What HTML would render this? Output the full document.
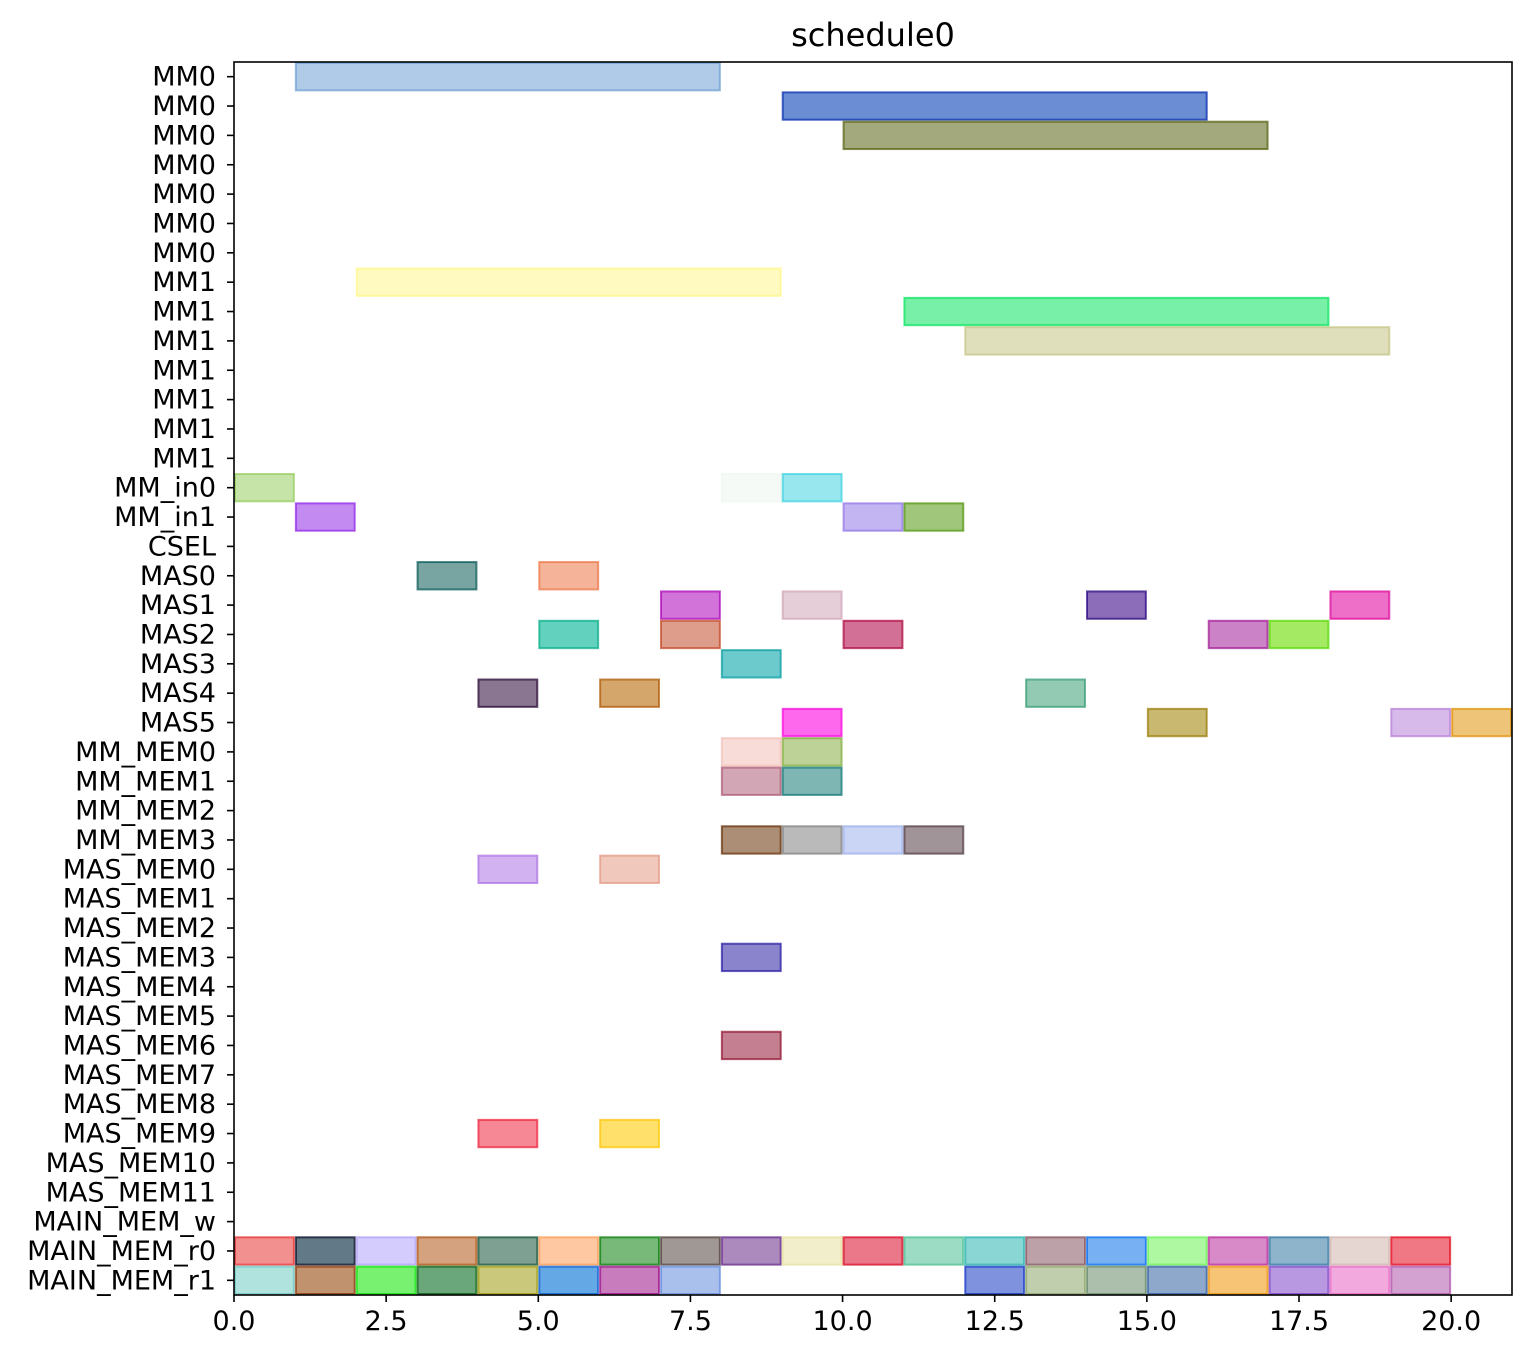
<!DOCTYPE html>
<html><head><meta charset="utf-8"><style>
body{margin:0;background:#fff}
svg text{font-family:"DejaVu Sans","Liberation Sans",sans-serif;fill:#000}
</style></head><body>
<svg id="c" width="1532" height="1362" xmlns="http://www.w3.org/2000/svg"></svg>
<script>
const rowLabels=["MM0","MM0","MM0","MM0","MM0","MM0","MM0","MM1","MM1","MM1","MM1","MM1","MM1","MM1","MM_in0","MM_in1","CSEL","MAS0","MAS1","MAS2","MAS3","MAS4","MAS5","MM_MEM0","MM_MEM1","MM_MEM2","MM_MEM3","MAS_MEM0","MAS_MEM1","MAS_MEM2","MAS_MEM3","MAS_MEM4","MAS_MEM5","MAS_MEM6","MAS_MEM7","MAS_MEM8","MAS_MEM9","MAS_MEM10","MAS_MEM11","MAIN_MEM_w","MAIN_MEM_r0","MAIN_MEM_r1"];
const xTicks=[0,2.5,5,7.5,10,12.5,15,17.5,20];
const xTickLabels=["0.0","2.5","5.0","7.5","10.0","12.5","15.0","17.5","20.0"];
const barRows=[0,1,2,7,8,9,14,14,14,15,15,15,17,17,18,18,18,18,19,19,19,19,19,20,21,21,21,22,22,22,22,23,23,24,24,26,26,26,26,27,27,30,33,36,36];
const barStarts=[1,9,10,2,11,12,0,8,9,1,10,11,3,5,7,9,14,18,5,7,10,16,17,8,4,6,13,9,15,19,20,8,9,8,9,8,9,10,11,4,6,8,8,4,6];
const barEnds=[8,16,17,9,18,19,1,9,10,2,11,12,4,6,8,10,15,19,6,8,11,17,18,9,5,7,14,10,16,20,21,9,10,9,10,9,10,11,12,5,7,9,9,5,7];
const barColors=["#b0cbe8","#6b8dd4","#a3a97d","#fffac0","#78f0a8","#dfdfbc","#c6e4a8","#f6faf6","#98e6ee","#c38af2","#c3b5f2","#a0c67c","#78a5a2","#f5b49a","#d273d9","#e5ced8","#8c6dba","#ed6fc8","#62d2be","#de9c8a","#d27096","#cc82c6","#a4ea62","#6ccacc","#8a7690","#d4a66c","#92cab4","#fd68ec","#c8b870","#d8baea","#eec478","#f8dcd8","#bcd296","#d2a6b4","#7eb6b4","#ac8e76","#bababa","#cad4f4","#a09498","#d2b2f0","#f0c8bc","#8a84cc","#c48090","#f68896","#fee06a"];
const r0Colors=["#f29090","#627a88","#d4ccfc","#d4a27e","#7ea092","#fec8a2","#78b878","#a09894","#ac8abe","#f2eecc","#ea7888","#9cdcc4","#8ad6d4","#bca2a8","#78b0f4","#aef8a2","#d88ac8","#8eb4cc","#e6d6d2","#f07884"];
const r1Starts=[0,1,2,3,4,5,6,7,12,13,14,15,16,17,18,19];
const r1Colors=["#b0e2de","#c0926e","#78f070","#6aa87c","#cac87a","#64a8e6","#c87cbe","#aac0ec","#7e92de","#c0cead","#acbeac","#8ea8cc","#f6c474","#b898e0","#f2aade","#d4a2d0"];

const L=234,R=1512,T=62,B=1295,XMAX=21,NR=rowLabels.length;
const xs=v=>L+(R-L)*v/XMAX;
const rowH=(B-T)/NR;
const ys=i=>T+rowH*i;
const svg=document.getElementById('c');
const NS="http://www.w3.org/2000/svg";
function mk(t,a){const e=document.createElementNS(NS,t);for(const k in a)e.setAttribute(k,a[k]);svg.appendChild(e);return e;}
function edge(c){const n=parseInt(c.slice(1),16);let r=n>>16,g=(n>>8)&255,b=n&255;const f=v=>Math.max(0,Math.round(255-(255-v)*1.9));return `rgb(${f(r)},${f(g)},${f(b)})`;}
function bar(row,s,e,c,name){
  const r=mk('rect',{x:xs(s)+1,y:ys(row)+1,width:xs(e)-xs(s)-2,height:rowH-2,fill:c,stroke:edge(c),'stroke-width':2,'stroke-opacity':0.7});
  
  
}
for(let i=0;i<barRows.length;i++)bar(barRows[i],barStarts[i],barEnds[i],barColors[i],'task-bar');
for(let i=0;i<r0Colors.length;i++)bar(40,i,i+1,r0Colors[i],'main-mem-r0-bar');
for(let i=0;i<r1Starts.length;i++)bar(41,r1Starts[i],r1Starts[i]+1,r1Colors[i],'main-mem-r1-bar');

const fr=mk('rect',{x:L,y:T,width:R-L,height:B-T,fill:'none',stroke:'#000','stroke-width':1.6});


for(let i=0;i<NR;i++){
  const y=ys(i)+rowH/2;
  mk('line',{x1:L-7,x2:L,y1:y,y2:y,stroke:'#000','stroke-width':1.6});
  const t=mk('text',{x:L-18,y:y+9,'text-anchor':'end','font-size':27});
  t.textContent=rowLabels[i];
  
  
}
for(let i=0;i<xTicks.length;i++){
  const x=xs(xTicks[i]);
  mk('line',{x1:x,x2:x,y1:B,y2:B+7,stroke:'#000','stroke-width':1.6});
  const t=mk('text',{x:x,y:B+35,'text-anchor':'middle','font-size':27});
  t.textContent=xTickLabels[i];
  
  
}
const ti=mk('text',{x:(L+R)/2,y:46,'text-anchor':'middle','font-size':32});
ti.textContent='schedule0';


</script>
</body></html>
